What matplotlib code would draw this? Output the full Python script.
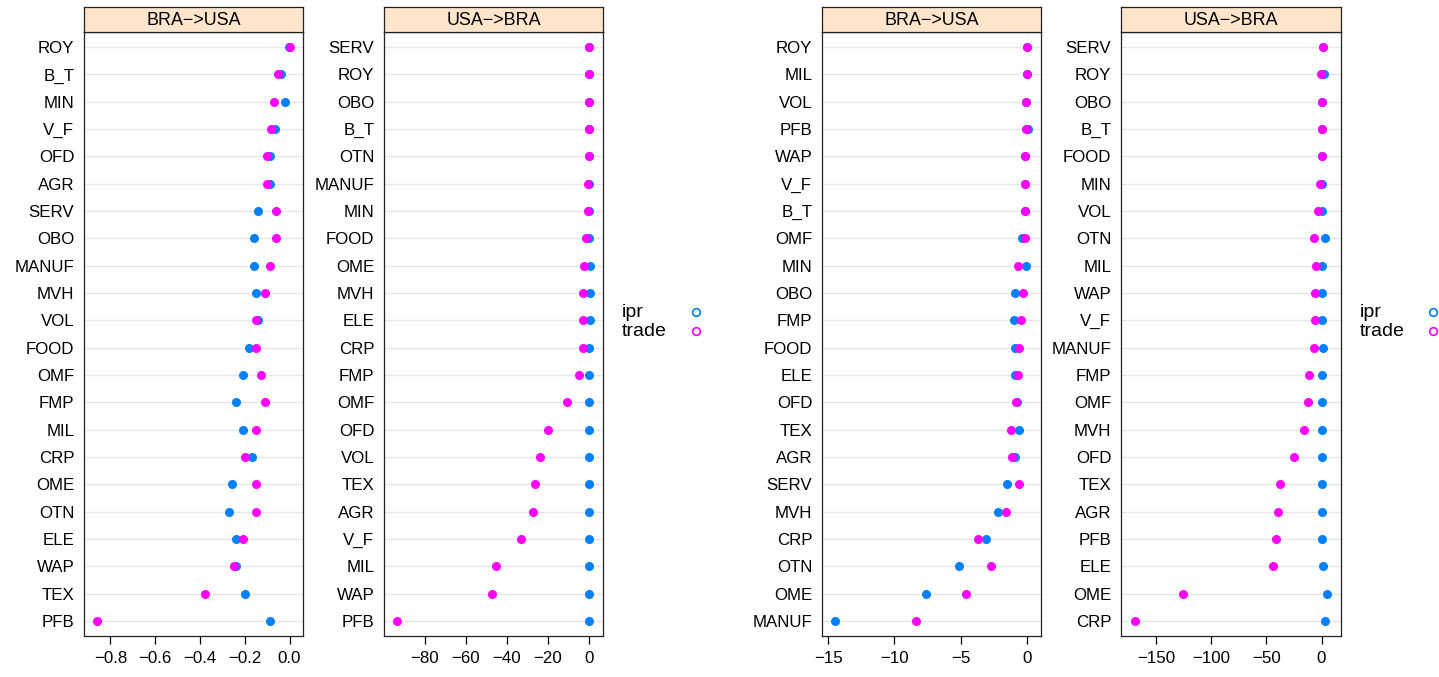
import matplotlib
matplotlib.use("Agg")
import matplotlib.pyplot as plt
from matplotlib.lines import Line2D

plt.rcParams['font.family'] = ['Liberation Sans', 'DejaVu Sans']

# ---- Data (categories listed top to bottom) ----
p1_title = "BRA\u2212>USA"
p1_cats = ["ROY", "B_T", "MIN", "V_F", "OFD", "AGR", "SERV", "OBO", "MANUF", "MVH", "VOL",
           "FOOD", "OMF", "FMP", "MIL", "CRP", "OME", "OTN", "ELE", "WAP", "TEX", "PFB"]
p1_ipr = [-0.003, -0.037, -0.019, -0.067, -0.089, -0.089, -0.139, -0.158, -0.158, -0.150, -0.139,
          -0.181, -0.207, -0.238, -0.207, -0.166, -0.259, -0.270, -0.238, -0.237, -0.199, -0.089]
p1_trade = [0.0, -0.052, -0.071, -0.081, -0.101, -0.101, -0.061, -0.061, -0.089, -0.110, -0.151,
            -0.151, -0.129, -0.110, -0.151, -0.199, -0.151, -0.151, -0.207, -0.247, -0.379, -0.858]

p2_title = "USA\u2212>BRA"
p2_cats = ["SERV", "ROY", "OBO", "B_T", "OTN", "MANUF", "MIN", "FOOD", "OME", "MVH", "ELE",
           "CRP", "FMP", "OMF", "OFD", "VOL", "TEX", "AGR", "V_F", "MIL", "WAP", "PFB"]
p2_ipr = [0.0, 0.0, 0.0, 0.0, 0.2, 0.1, 0.0, 0.1, 0.3, 0.3, 0.3,
          0.2, 0.1, 0.1, 0.1, 0.1, 0.1, 0.1, 0.1, 0.1, 0.1, 0.1]
p2_trade = [0.0, 0.0, 0.0, -0.2, -0.2, -0.5, -0.5, -1.5, -2.6, -2.7, -3.1,
            -3.1, -4.8, -10.5, -20.0, -23.9, -26.3, -27.3, -33.1, -45.3, -47.4, -93.4]

p3_title = "BRA\u2212>USA"
p3_cats = ["ROY", "MIL", "VOL", "PFB", "WAP", "V_F", "B_T", "OMF", "MIN", "OBO", "FMP",
           "FOOD", "ELE", "OFD", "TEX", "AGR", "SERV", "MVH", "CRP", "OTN", "OME", "MANUF"]
p3_ipr = [0.0, 0.0, -0.03, 0.05, -0.13, -0.15, -0.18, -0.35, -0.10, -0.90, -0.95,
          -0.90, -0.90, -0.73, -0.63, -0.90, -1.53, -2.18, -3.10, -5.10, -7.59, -14.45]
p3_trade = [0.0, -0.02, -0.03, -0.10, -0.13, -0.15, -0.18, -0.18, -0.65, -0.30, -0.43,
            -0.63, -0.70, -0.83, -1.23, -1.10, -0.60, -1.55, -3.66, -2.68, -4.56, -8.36]

p4_title = "USA\u2212>BRA"
p4_cats = ["SERV", "ROY", "OBO", "B_T", "FOOD", "MIN", "VOL", "OTN", "MIL", "WAP", "V_F",
           "MANUF", "FMP", "OMF", "MVH", "OFD", "TEX", "AGR", "PFB", "ELE", "OME", "CRP"]
p4_ipr = [0.9, 2.1, 0.3, 0.0, 0.0, 0.3, 0.3, 3.3, 0.3, 0.3, 0.3,
          1.2, 0.3, 0.3, 0.6, 0.3, 0.3, 0.3, 0.3, 1.2, 5.4, 3.0]
p4_trade = [0.9, -0.6, 0.3, 0.0, 0.0, -1.8, -3.6, -7.0, -4.8, -5.7, -5.7,
            -7.0, -10.9, -12.1, -16.3, -25.1, -37.5, -39.0, -41.1, -43.9, -125.5, -169.4]

p1_ticks = [-0.8, -0.6, -0.4, -0.2, 0.0]
p2_ticks = [-80, -60, -40, -20, 0]
p3_ticks = [-15, -10, -5, 0]
p4_ticks = [-150, -100, -50, 0]

p1_ticklabels = ["\u22120.8", "\u22120.6", "\u22120.4", "\u22120.2", "0.0"]
p2_ticklabels = ["\u221280", "\u221260", "\u221240", "\u221220", "0"]
p3_ticklabels = ["\u221215", "\u221210", "\u22125", "0"]
p4_ticklabels = ["\u2212150", "\u2212100", "\u221250", "0"]

series_names = ["ipr", "trade"]
col_ipr = "#0080ff"
col_trade = "#ff00ff"
strip_col = "#ffe5cc"

W, H = 1439, 677
fig = plt.figure(figsize=(W / 100, H / 100), dpi=100)

def px_axes(left, right, top, bottom):
    return fig.add_axes([left / W, 1 - bottom / H, (right - left) / W, (bottom - top) / H])

panels = [
    (p1_title, p1_cats, p1_ipr, p1_trade, p1_ticks, p1_ticklabels, 84, 303),
    (p2_title, p2_cats, p2_ipr, p2_trade, p2_ticks, p2_ticklabels, 384, 603),
    (p3_title, p3_cats, p3_ipr, p3_trade, p3_ticks, p3_ticklabels, 822, 1041),
    (p4_title, p4_cats, p4_ipr, p4_trade, p4_ticks, p4_ticklabels, 1121, 1341),
]

top_plot, bottom_plot, strip_top = 32, 636, 7
fs_tick = 12.2

for title, cats, ipr, trade, ticks, tlabels, L, R in panels:
    ax = px_axes(L, R, top_plot, bottom_plot)
    n = len(cats)
    ypos = [n - i for i in range(n)]
    for y in ypos:
        ax.axhline(y, color="#e6e6e6", lw=1.0, zorder=0)
    ax.plot(ipr, ypos, 'o', color=col_ipr, ms=6.5, mew=0, zorder=3)
    ax.plot(trade, ypos, 'o', color=col_trade, ms=6.5, mew=0, zorder=4)
    allv = list(ipr) + list(trade)
    lo, hi = min(allv), max(allv)
    pad = 0.07 * (hi - lo)
    ax.set_xlim(lo - pad, hi + pad)
    ax.set_ylim(0.45, n + 0.55)
    ax.set_yticks(ypos)
    ax.set_yticklabels(cats, fontsize=fs_tick)
    ax.tick_params(axis='y', length=0, pad=7)
    ax.set_xticks(ticks)
    ax.set_xticklabels(tlabels, fontsize=fs_tick)
    ax.tick_params(axis='x', length=6, width=0.9, pad=5, direction='out')
    for s in ax.spines.values():
        s.set_linewidth(0.9)
        s.set_color("#222222")
    # strip
    sx = px_axes(L, R, strip_top, top_plot)
    sx.set_facecolor(strip_col)
    sx.set_xticks([])
    sx.set_yticks([])
    for s in sx.spines.values():
        s.set_linewidth(0.9)
        s.set_color("#222222")
    sx.text(0.5, 0.45, title, ha='center', va='center', fontsize=12.9, transform=sx.transAxes)

# legends
for tx, mx in [(622, 696), (1360, 1433)]:
    for name, col, ly in [(series_names[0], col_ipr, 313), (series_names[1], col_trade, 332)]:
        fig.text(tx / W, 1 - ly / H, name, fontsize=14, ha='left', va='center')
        fig.add_artist(Line2D([mx / W], [1 - (ly - 1) / H], transform=fig.transFigure, marker='o',
                              ms=5.5, mfc='none', mec=col, mew=1.2, linestyle='none'))

fig.savefig("out.png", dpi=100)
